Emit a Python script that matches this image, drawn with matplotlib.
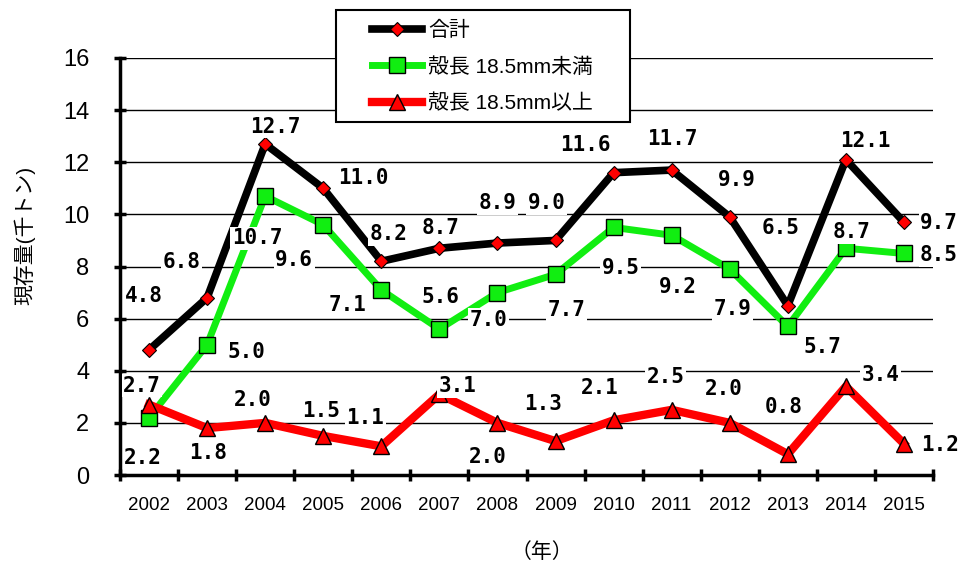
import numpy as np
import matplotlib.pyplot as plt
from matplotlib.patches import Rectangle

plt.rcParams['font.family'] = ['Liberation Sans', 'Noto Sans CJK JP', 'DejaVu Sans']

# データ
years = ['2002', '2003', '2004', '2005', '2006', '2007', '2008',
         '2009', '2010', '2011', '2012', '2013', '2014', '2015']

total = [4.8, 6.8, 12.7, 11.0, 8.2, 8.7, 8.9, 9.0, 11.6, 11.7, 9.9, 6.5, 12.1, 9.7]
small = [2.2, 5.0, 10.7, 9.6, 7.1, 5.6, 7.0, 7.7, 9.5, 9.2, 7.9, 5.7, 8.7, 8.5]
large = [2.7, 1.8, 2.0, 1.5, 1.1, 3.1, 2.0, 1.3, 2.1, 2.5, 2.0, 0.8, 3.4, 1.2]

# ラベルのずれ (pixels)
off_total = [(-5, 54), (-26, 36), (10, 17), (40, 10), (7, 27), (1, 20), (0, 40),
             (-9, 37), (-28, 28), (1, 31), (7, 37), (-7, 78), (19, 19), (35, -1)]
off_small = [(-6, -40), (39, -7), (-8, -42), (-29, -35), (-34, -15), (1, 32), (-9, -27),
             (11, -36), (7, -41), (6, -52), (3, -40), (35, -21), (6, 16), (35, -2)]
off_large = [(-7, 19), (1, -25), (-12, 23), (-2, 25), (-16, 28), (18, 8), (-10, -34),
             (-12, 37), (-14, 32), (-6, 33), (-6, 34), (-4, 47), (35, 11), (36, -1)]

fig = plt.figure(figsize=(9.6, 5.67), dpi=100)
ax = fig.add_axes([120 / 960, 1 - 475 / 567, 813 / 960, 417 / 567])

x = np.arange(len(years))

ax.plot(x, total, color='black', linewidth=5.5, marker='D', markersize=7,
        markerfacecolor='red', markeredgecolor='black', markeredgewidth=0.8,
        label='合計', zorder=5)
ax.plot(x, small, color='#11ee11', linewidth=5, marker='s', markersize=11,
        markerfacecolor='#11ee11', markeredgecolor='black', markeredgewidth=1,
        label='殻長 18.5mm未満', zorder=4)
ax.plot(x, large, color='red', linewidth=6, marker='^', markersize=11,
        markerfacecolor='red', markeredgecolor='black', markeredgewidth=1,
        label='殻長 18.5mm以上', zorder=4)

for vals, offs in [(total, off_total), (small, off_small), (large, off_large)]:
    for xi, v, (dx, dy) in zip(x, vals, offs):
        ax.annotate(f'{v:.1f}', (xi, v), xytext=(dx, dy), textcoords='offset pixels',
                    ha='center', va='center', fontsize=15, fontweight='bold',
                    family='DejaVu Sans Mono',
                    bbox=dict(facecolor='white', edgecolor='none', pad=1),
                    zorder=6)

ax.set_xlim(-0.5, 13.5)
ax.set_ylim(0, 16)
ax.set_yticks(np.arange(0, 17, 2))
ax.set_xticks(x)
ax.set_xticklabels(years, fontsize=13.5)
ax.set_xticks(np.arange(-0.5, 14, 1), minor=True)
ax.tick_params(axis='x', which='major', length=0, pad=16)
ax.tick_params(axis='x', which='minor', length=9, width=2.5, direction='inout')
ax.tick_params(axis='y', length=8, width=2.5, direction='inout', labelsize=17, pad=18)

ax.grid(axis='y', color='black', linewidth=1, zorder=1)
ax.set_axisbelow(True)
for s in ['top', 'right']:
    ax.spines[s].set_visible(False)
ax.spines['left'].set_linewidth(2.5)
ax.spines['bottom'].set_linewidth(2.5)

fig.text(25 / 960, 1 - 235 / 567, '現存量(千トン)', rotation=90, ha='center', va='center',
         fontsize=15)
fig.text(542 / 960, 1 - 552 / 567, '（年）', ha='center', va='center', fontsize=15)

# 凡例の枠
box = Rectangle((336 / 960, 1 - 122 / 567), 294 / 960, 112 / 567, transform=fig.transFigure,
                facecolor='white', edgecolor='black', linewidth=1.5, zorder=9,
                clip_on=False)
ax.add_patch(box)

leg = ax.legend(loc='upper left', bbox_to_anchor=(368 / 960, 1 - 17 / 567),
                bbox_transform=fig.transFigure, fontsize=15, handlelength=2.4,
                handletextpad=0.3, frameon=False, borderpad=0.2,
                labelspacing=0.8, borderaxespad=0)
leg.set_zorder(10)

fig.savefig('out.png', dpi=100)
